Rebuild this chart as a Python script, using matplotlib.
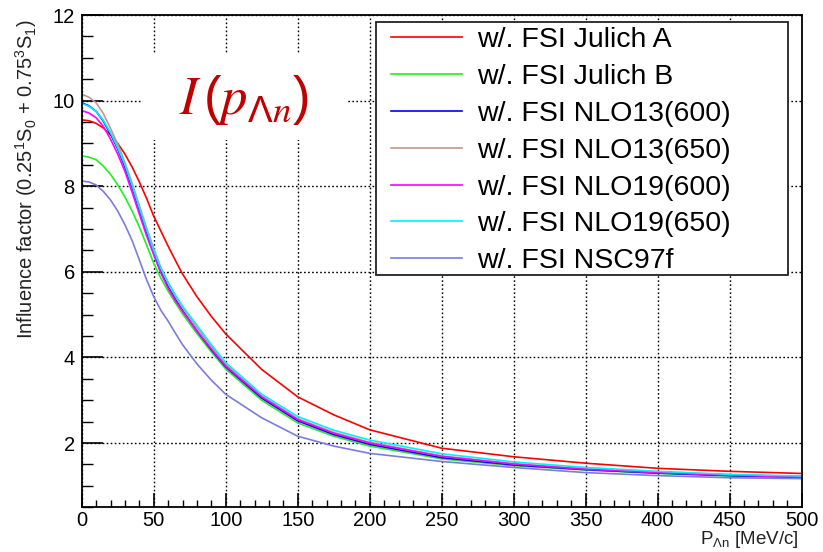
import numpy as np
import matplotlib
matplotlib.use('Agg')
import matplotlib.pyplot as plt
from matplotlib.patches import Rectangle
from matplotlib.ticker import MultipleLocator
from matplotlib import rc
rc('font', **{'family': 'sans-serif', 'sans-serif': ['Liberation Sans', 'DejaVu Sans']})
rc('mathtext', **{'default': 'regular'})

# momentum grid [MeV/c]
p = [0, 5, 10, 15, 20, 25, 30, 35, 40, 45, 50, 55, 60, 65, 70, 80, 90, 100, 125, 150, 175, 200, 250, 300, 350, 400, 450, 500]

julich_a = [9.55, 9.53, 9.47, 9.36, 9.20, 9.00, 8.75, 8.45, 8.10, 7.72, 7.30, 6.95, 6.60, 6.27, 5.95, 5.42, 4.96, 4.55, 3.72, 3.08, 2.66, 2.31, 1.88, 1.68, 1.53, 1.41, 1.34, 1.29]
julich_b = [8.71, 8.68, 8.62, 8.47, 8.28, 8.03, 7.75, 7.42, 7.05, 6.63, 6.20, 5.85, 5.55, 5.28, 5.02, 4.56, 4.13, 3.73, 3.00, 2.47, 2.16, 1.93, 1.63, 1.47, 1.37, 1.29, 1.23, 1.19]
nlo13_600 = [9.95, 9.88, 9.75, 9.52, 9.22, 8.87, 8.45, 7.97, 7.45, 6.93, 6.45, 6.00, 5.65, 5.36, 5.10, 4.62, 4.18, 3.78, 3.05, 2.52, 2.20, 1.97, 1.66, 1.49, 1.38, 1.30, 1.24, 1.20]
nlo13_650 = [10.15, 10.08, 9.95, 9.70, 9.35, 8.98, 8.55, 8.07, 7.55, 7.03, 6.55, 6.10, 5.75, 5.44, 5.17, 4.70, 4.26, 3.84, 3.10, 2.57, 2.25, 2.02, 1.70, 1.52, 1.40, 1.32, 1.26, 1.22]
nlo19_600 = [9.77, 9.71, 9.60, 9.40, 9.10, 8.75, 8.35, 7.86, 7.35, 6.85, 6.40, 5.97, 5.62, 5.33, 5.08, 4.62, 4.20, 3.80, 3.08, 2.55, 2.23, 2.00, 1.69, 1.51, 1.39, 1.31, 1.25, 1.21]
nlo19_650 = [9.93, 9.87, 9.75, 9.54, 9.25, 8.90, 8.50, 8.02, 7.50, 6.99, 6.50, 6.08, 5.75, 5.46, 5.20, 4.75, 4.30, 3.88, 3.14, 2.62, 2.30, 2.07, 1.75, 1.56, 1.43, 1.34, 1.27, 1.23]
nsc97f = [8.12, 8.10, 8.03, 7.88, 7.68, 7.42, 7.10, 6.73, 6.28, 5.82, 5.42, 5.10, 4.85, 4.57, 4.30, 3.85, 3.47, 3.14, 2.59, 2.16, 1.93, 1.76, 1.57, 1.43, 1.31, 1.24, 1.19, 1.17]

curves = [julich_a, julich_b, nlo13_600, nlo13_650, nlo19_600, nlo19_650, nsc97f]
labels = ['w/. FSI Julich A', 'w/. FSI Julich B', 'w/. FSI NLO13(600)', 'w/. FSI NLO13(650)',
          'w/. FSI NLO19(600)', 'w/. FSI NLO19(650)', 'w/. FSI NSC97f']
colors = ['#ff0000', '#22ee22', '#0000ff', '#c09890', '#ff00ff', '#00f0ff', '#7b7be0']

fig = plt.figure(figsize=(8.23, 5.52), dpi=100)
ax = fig.add_axes([0.0993, 0.081, 0.8748, 0.8918])

for y, lab, c in zip(curves, labels, colors):
    ax.plot(p, y, color=c, lw=1.2, label=lab, zorder=2)

ax.set_xlim(0, 500)
ax.set_ylim(0.5, 12)
ax.xaxis.set_major_locator(MultipleLocator(50))
ax.xaxis.set_minor_locator(MultipleLocator(10))
ax.yaxis.set_major_locator(MultipleLocator(2))
ax.yaxis.set_minor_locator(MultipleLocator(0.5))
ax.set_axisbelow(True)
ax.grid(True, which='major', color='black', lw=1.0, linestyle=(0, (1.2, 1.7)))
ax.tick_params(axis='both', which='both', direction='in', top=False, right=False, labelsize=14.5)
ax.tick_params(axis='y', which='major', length=15, width=1.2, pad=5)
ax.tick_params(axis='y', which='minor', length=7.7, width=1.0)
ax.tick_params(axis='x', which='major', length=10, width=1.2, pad=3)
ax.tick_params(axis='x', which='minor', length=5, width=1.0)
for s in ax.spines.values():
    s.set_linewidth(1.3)

# labels
fig.text(26.5 / 823, 1 - 19 / 552, r'Influence factor (0.25$^{1}$S$_{0}$ + 0.75$^{3}$S$_{1}$)',
         rotation=90, ha='center', va='top', fontsize=14.5, color='#222222')
fig.text(799 / 823, 2 / 552, r'P$_{\Lambda n}$ [MeV/c]', ha='right', va='bottom', fontsize=13.5,
         color='#222222')

# white box behind the annotation
ax.add_patch(Rectangle((0.085, 0.746), 0.285, 0.177, transform=ax.transAxes,
                       facecolor='white', edgecolor='none', zorder=1.5))
ax.text(0.2254, 0.827, r'$\mathit{I}\,(\mathit{p}_{\Lambda \mathit{n}})$', transform=ax.transAxes,
        ha='center', va='center', fontsize=38, color='#c00000', math_fontfamily='stix', zorder=3)

# legend frame + legend
ax.add_patch(Rectangle((0.409, 0.472), 0.572, 0.514, transform=ax.transAxes,
                       facecolor='white', edgecolor='#222222', lw=1.3, zorder=3))
leg = ax.legend(loc='upper left', bbox_to_anchor=(0.4296, 0.975), frameon=False,
                fontsize=20.5, borderpad=0, borderaxespad=0, handlelength=2.5,
                handletextpad=0.52, labelspacing=0.38)
leg.set_zorder(4)

fig.savefig('out.png', dpi=100)
